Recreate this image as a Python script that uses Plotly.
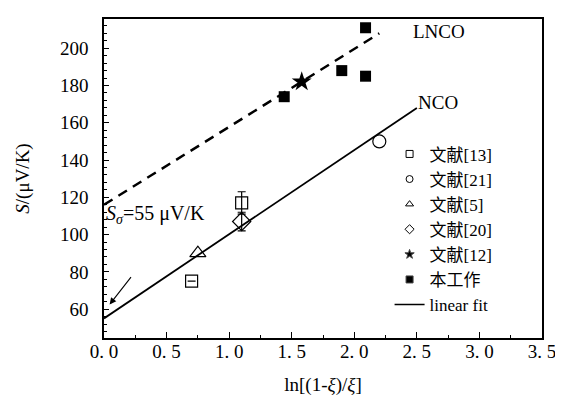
import plotly.graph_objects as go

# ---- data ----
ref13_x = [0.70, 1.10]
ref13_y = [75, 117]
ref13_err = [0, 6]
ref21_x = [2.20]
ref21_y = [150]
ref5_x = [0.75]
ref5_y = [90]
ref20_x = [1.10]
ref20_y = [107]
ref20_err = [5]
ref12_x = [1.58]
ref12_y = [182]
work_x = [1.44, 1.90, 2.09, 2.09]
work_y = [174, 188, 185, 211]
nco_fit_x = [0.0, 2.5]
nco_fit_y = [55, 168]
lnco_fit_x = [0.0, 2.2]
lnco_fit_y = [116, 208]

x_tickvals = [0, 0.5, 1.0, 1.5, 2.0, 2.5, 3.0, 3.5]
x_ticktext = ["0. 0", "0. 5", "1. 0", "1. 5", "2. 0", "2. 5", "3. 0", "3. 5"]
y_tickvals = [60, 80, 100, 120, 140, 160, 180, 200]

legend_names = ["文献[13]", "文献[21]", "文献[5]", "文献[20]", "文献[12]", "本工作", "linear fit"]

SERIF = "Liberation Serif, Times New Roman, serif"
CJK = "Liberation Serif, Noto Sans CJK SC, serif"

fig = go.Figure()

# fit lines
fig.add_trace(go.Scatter(x=lnco_fit_x, y=lnco_fit_y, mode="lines",
                         line=dict(color="black", width=2.5, dash="10px,7px"),
                         showlegend=False))
fig.add_trace(go.Scatter(x=nco_fit_x, y=nco_fit_y, mode="lines",
                         line=dict(color="black", width=1.8),
                         showlegend=False))

# data markers
fig.add_trace(go.Scatter(x=ref13_x, y=ref13_y, mode="markers",
                         marker=dict(symbol="square-open", size=12, color="black", line=dict(width=1.2)),
                         error_y=dict(type="data", array=ref13_err, color="black", thickness=1.2, width=4),
                         showlegend=False))
fig.add_trace(go.Scatter(x=ref21_x, y=ref21_y, mode="markers",
                         marker=dict(symbol="circle-open", size=13, color="black", line=dict(width=1.2)),
                         showlegend=False))
fig.add_trace(go.Scatter(x=ref5_x, y=ref5_y, mode="markers",
                         marker=dict(symbol="triangle-up-open", size=14, color="black", line=dict(width=1.2)),
                         showlegend=False))
fig.add_trace(go.Scatter(x=ref20_x, y=ref20_y, mode="markers",
                         marker=dict(symbol="diamond-open", size=14, color="black", line=dict(width=1.2)),
                         error_y=dict(type="data", array=ref20_err, color="black", thickness=1.2, width=4),
                         showlegend=False))
fig.add_trace(go.Scatter(x=ref12_x, y=ref12_y, mode="markers",
                         marker=dict(symbol="star", size=15, color="black"),
                         showlegend=False))
fig.add_trace(go.Scatter(x=work_x, y=work_y, mode="markers",
                         marker=dict(symbol="square", size=11, color="black"),
                         showlegend=False))

# legend entries (small symbols as in the reference)
leg_symbols = ["square-open", "circle-open", "triangle-up-open", "diamond-open", "star", "square"]
for name, sym in zip(legend_names[:6], leg_symbols):
    fig.add_trace(go.Scatter(x=[None], y=[None], mode="markers", name=name,
                             marker=dict(symbol=sym, size=7, color="black", line=dict(width=1))))
fig.add_trace(go.Scatter(x=[None], y=[None], mode="lines", name=legend_names[6],
                         line=dict(color="black", width=1.5)))

fig.add_annotation(x=2.45, y=209, text="LNCO", showarrow=False, xanchor="left",
                   font=dict(family=SERIF, size=19, color="black"))
fig.add_annotation(x=2.49, y=171, text="NCO", showarrow=False, xanchor="left",
                   font=dict(family=SERIF, size=19, color="black"))
fig.add_annotation(x=0.0, y=111, text="<i>S</i><sub><i>σ</i></sub>=55 μV/K", showarrow=False,
                   xanchor="left", font=dict(family=SERIF, size=20, color="black"))
fig.add_annotation(x=0.045, y=62.5, ax=0.225, ay=78, xref="x", yref="y", axref="x", ayref="y",
                   text="", showarrow=True, arrowhead=2, arrowsize=1.2, arrowwidth=1.1, arrowcolor="black")

fig.update_layout(
    width=563, height=401,
    margin=dict(l=96, r=29, t=9, b=71),
    paper_bgcolor="white", plot_bgcolor="white",
    showlegend=True,
    legend=dict(x=0.652, y=0.632, xanchor="left", yanchor="top",
                bgcolor="rgba(0,0,0,0)", borderwidth=0,
                font=dict(family=CJK, size=17, color="black"),
                tracegroupgap=0, itemwidth=30),
    font=dict(family=SERIF, size=18, color="black"),
)
fig.update_xaxes(range=[0, 3.5], tickvals=x_tickvals, ticktext=x_ticktext,
                 ticks="inside", ticklen=6, tickwidth=1.2, tickcolor="black",
                 minor=dict(ticks="inside", dtick=0.25, ticklen=3, tickwidth=1.2, tickcolor="black"),
                 showline=True, linewidth=1.6, linecolor="black", mirror=True,
                 showgrid=False, zeroline=False,
                 tickfont=dict(family=SERIF, size=19), ticklabelstandoff=-5,
                 title=dict(text="ln[(1-<i>ξ</i>)/<i>ξ</i>]", font=dict(family=SERIF, size=19), standoff=17))
fig.update_yaxes(range=[44.5, 215.7], tickvals=y_tickvals,
                 ticks="inside", ticklen=5, tickwidth=1.2, tickcolor="black",
                 minor=dict(ticks="inside", dtick=4, tick0=0, ticklen=3, tickwidth=1, tickcolor="black"),
                 showline=True, linewidth=1.6, linecolor="black", mirror=True,
                 showgrid=False, zeroline=False,
                 tickfont=dict(family=SERIF, size=19), ticklabelstandoff=10,
                 title=dict(text="<i>S</i>/(μV/K)", font=dict(family=SERIF, size=19), standoff=25))

fig.write_html("out.html")
